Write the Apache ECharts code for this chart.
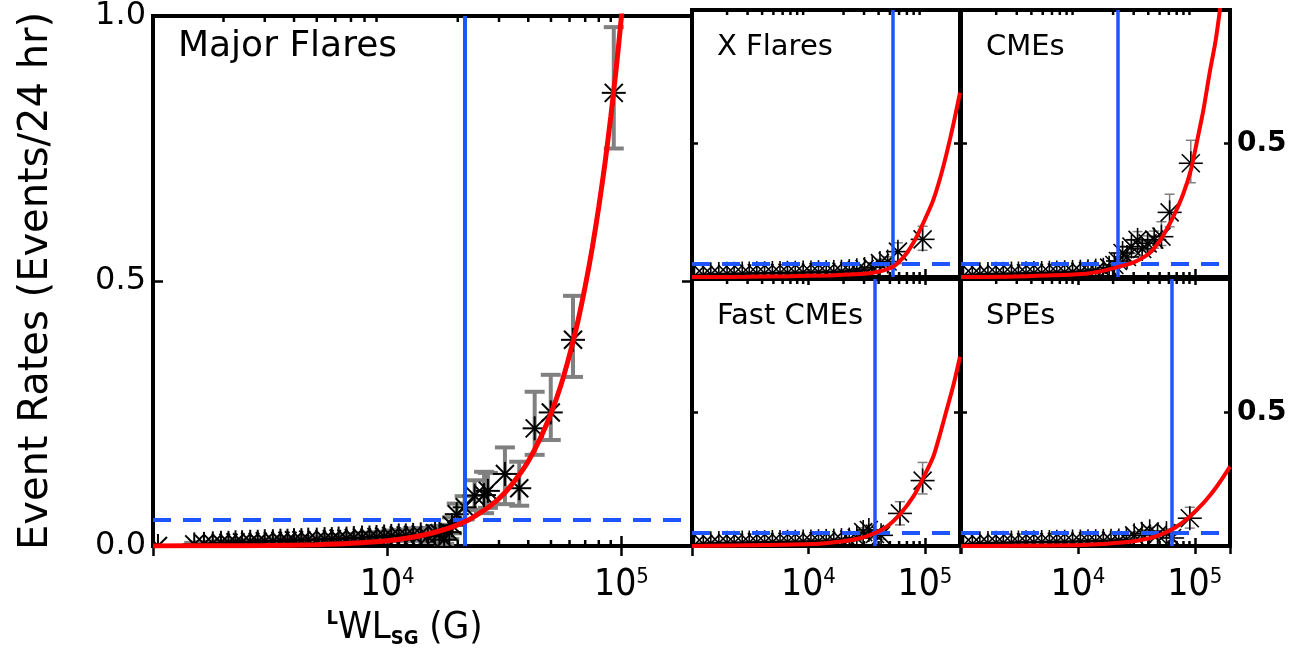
<!DOCTYPE html>
<html><head><meta charset="utf-8">
<script src="https://cdn.jsdelivr.net/npm/echarts@6/dist/echarts.min.js"></script>
<style>html,body{margin:0;padding:0;background:#fff}#c{width:1296px;height:662px}</style>
</head><body><div id="c"></div>
<script>
// ---------------- DATA ----------------
const panelNames = ['Major Flares', 'X Flares', 'CMEs', 'Fast CMEs', 'SPEs'];
const xTickExponents = [4, 5];
const yTickLabelRight = '0.5';
const minorTickValues = [2000, 3000, 4000, 5000, 6000, 7000, 8000, 9000, 20000, 30000, 40000, 50000, 60000, 70000, 80000, 90000];

// Major Flares
const mfX  = [1050, 1500, 1650, 1800, 1950, 2100, 2250, 2400, 2600, 2800, 3000, 3250, 3500, 3750, 4000, 4300, 4600, 5000, 5400, 5800, 6200, 6700, 7200, 7800, 8400, 9000, 9700, 10400, 11200, 12000, 12900, 13900, 14900, 16000, 16700, 17500, 18400, 18900, 19800, 21400, 23600, 25900, 26900, 31800, 36600, 42600, 49900, 62100, 92700];
const mfY  = [0.000, 0.003, 0.004, 0.005, 0.006, 0.006, 0.007, 0.007, 0.008, 0.008, 0.009, 0.009, 0.010, 0.010, 0.011, 0.011, 0.012, 0.012, 0.013, 0.013, 0.014, 0.014, 0.015, 0.016, 0.016, 0.017, 0.018, 0.019, 0.020, 0.020, 0.021, 0.022, 0.018, 0.024, 0.024, 0.012, 0.026, 0.039, 0.060, 0.073, 0.095, 0.096, 0.104, 0.136, 0.109, 0.222, 0.252, 0.389, 0.855];
const mfLo = [0.000, 0.000, 0.001, 0.002, 0.003, 0.003, 0.004, 0.004, 0.005, 0.005, 0.006, 0.006, 0.006, 0.006, 0.007, 0.007, 0.007, 0.007, 0.008, 0.008, 0.008, 0.008, 0.008, 0.009, 0.009, 0.009, 0.009, 0.010, 0.010, 0.010, 0.010, 0.011, 0.008, 0.012, 0.012, 0.004, 0.013, 0.024, 0.040, 0.050, 0.068, 0.062, 0.072, 0.079, 0.076, 0.172, 0.200, 0.319, 0.750];
const mfHi = [0.000, 0.006, 0.007, 0.008, 0.009, 0.009, 0.010, 0.010, 0.011, 0.011, 0.012, 0.012, 0.014, 0.014, 0.015, 0.015, 0.017, 0.017, 0.018, 0.019, 0.020, 0.021, 0.022, 0.024, 0.025, 0.026, 0.027, 0.029, 0.030, 0.031, 0.033, 0.034, 0.030, 0.037, 0.038, 0.022, 0.040, 0.054, 0.080, 0.094, 0.124, 0.140, 0.138, 0.186, 0.159, 0.291, 0.323, 0.472, 0.979];
const mfFitX = [1000, 2000, 3000, 5000, 7000, 10000, 13000, 16000, 19000, 22000, 25000, 28000, 32000, 36000, 40000, 45000, 50000, 55000, 60000, 65000, 70000, 75000, 80000, 85000, 90000, 95000, 100000, 106000];
const mfFitY = [0.0001, 0.0004, 0.0009, 0.0025, 0.005, 0.010, 0.017, 0.026, 0.036, 0.048, 0.063, 0.078, 0.102, 0.130, 0.160, 0.203, 0.250, 0.302, 0.360, 0.422, 0.490, 0.562, 0.640, 0.722, 0.810, 0.902, 1.000, 1.120];
const mfThreshold = 21400, mfRate = 0.050;

// X Flares
const xfX  = [1050, 1250, 1450, 1700, 2000, 2300, 2700, 3100, 3600, 4200, 4900, 5700, 6600, 7700, 9000, 10500, 12200, 14200, 16500, 19200, 22400, 26000, 30300, 35300, 41100, 47800, 58600, 95500];
const xfY  = [0.004, 0.008, 0.010, 0.011, 0.012, 0.012, 0.013, 0.013, 0.014, 0.014, 0.015, 0.015, 0.016, 0.016, 0.017, 0.017, 0.018, 0.018, 0.019, 0.020, 0.022, 0.025, 0.030, 0.036, 0.052, 0.058, 0.095, 0.141];
const xfLo = [0.002, 0.005, 0.007, 0.008, 0.009, 0.009, 0.010, 0.010, 0.011, 0.011, 0.012, 0.012, 0.012, 0.012, 0.013, 0.013, 0.013, 0.013, 0.014, 0.014, 0.016, 0.018, 0.022, 0.026, 0.038, 0.040, 0.050, 0.100];
const xfHi = [0.006, 0.011, 0.013, 0.014, 0.015, 0.015, 0.016, 0.016, 0.017, 0.017, 0.018, 0.018, 0.020, 0.020, 0.021, 0.021, 0.023, 0.023, 0.024, 0.026, 0.028, 0.032, 0.038, 0.046, 0.066, 0.076, 0.128, 0.190];
const xfFitX = [1000, 3000, 6900, 15300, 25000, 36000, 45000, 53500, 61000, 69700, 80000, 90600, 104000, 117800, 135000, 153500, 175000, 200000];
const xfFitY = [0.000, 0.001, 0.003, 0.006, 0.010, 0.016, 0.026, 0.039, 0.060, 0.089, 0.130, 0.176, 0.232, 0.288, 0.370, 0.463, 0.570, 0.690];
const xfThreshold = 53100, xfRate = 0.047;

// CMEs
const cmX  = [1050, 1250, 1450, 1700, 2000, 2300, 2700, 3100, 3600, 4200, 4900, 5700, 6600, 7700, 9000, 10500, 12200, 14200, 16500, 18500, 20500, 22000, 24100, 26300, 28700, 32400, 35500, 39500, 45000, 51800, 60900, 92400];
const cmY  = [0.004, 0.008, 0.010, 0.011, 0.012, 0.012, 0.013, 0.013, 0.014, 0.015, 0.015, 0.016, 0.017, 0.018, 0.019, 0.020, 0.022, 0.024, 0.027, 0.035, 0.045, 0.060, 0.090, 0.075, 0.114, 0.139, 0.105, 0.126, 0.140, 0.151, 0.242, 0.426];
const cmLo = [0.002, 0.005, 0.007, 0.008, 0.009, 0.009, 0.010, 0.010, 0.011, 0.011, 0.011, 0.012, 0.012, 0.013, 0.013, 0.014, 0.015, 0.016, 0.018, 0.024, 0.032, 0.044, 0.068, 0.055, 0.088, 0.108, 0.078, 0.098, 0.108, 0.118, 0.188, 0.353];
const cmHi = [0.006, 0.011, 0.013, 0.014, 0.015, 0.015, 0.016, 0.016, 0.017, 0.019, 0.019, 0.020, 0.022, 0.023, 0.025, 0.026, 0.029, 0.032, 0.036, 0.046, 0.058, 0.076, 0.112, 0.095, 0.140, 0.170, 0.132, 0.154, 0.172, 0.207, 0.310, 0.512];
const cmFitX = [1000, 3000, 10900, 16000, 21300, 30000, 41100, 50000, 57100, 67000, 79400, 92400, 103500, 117800, 134600, 150000, 164000, 175000];
const cmFitY = [0.000, 0.002, 0.011, 0.022, 0.036, 0.055, 0.090, 0.135, 0.176, 0.235, 0.310, 0.400, 0.500, 0.620, 0.770, 0.880, 1.000, 1.100];
const cmThreshold = 22000, cmRate = 0.047;

// Fast CMEs
const fcX  = [1050, 1250, 1450, 1700, 2000, 2300, 2700, 3100, 3600, 4200, 4900, 5700, 6600, 7700, 9000, 10500, 12200, 14200, 16500, 19200, 22400, 26000, 29500, 33000, 37200, 42000, 61000, 95500];
const fcY  = [0.004, 0.008, 0.010, 0.011, 0.012, 0.012, 0.013, 0.013, 0.014, 0.014, 0.015, 0.015, 0.016, 0.016, 0.017, 0.017, 0.018, 0.019, 0.020, 0.022, 0.024, 0.030, 0.052, 0.060, 0.045, 0.040, 0.122, 0.245];
const fcLo = [0.002, 0.005, 0.007, 0.008, 0.009, 0.009, 0.010, 0.010, 0.011, 0.011, 0.012, 0.012, 0.012, 0.012, 0.013, 0.013, 0.013, 0.014, 0.014, 0.015, 0.016, 0.020, 0.036, 0.042, 0.030, 0.025, 0.079, 0.195];
const fcHi = [0.006, 0.011, 0.013, 0.014, 0.015, 0.015, 0.016, 0.016, 0.017, 0.017, 0.018, 0.018, 0.020, 0.020, 0.021, 0.021, 0.023, 0.024, 0.026, 0.029, 0.032, 0.040, 0.068, 0.078, 0.060, 0.055, 0.166, 0.313];
const fcFitX = [1000, 10900, 20000, 27700, 36000, 46900, 60000, 79400, 98000, 117800, 135000, 153500, 175000, 200000];
const fcFitY = [0.000, 0.0075, 0.018, 0.029, 0.046, 0.072, 0.115, 0.185, 0.260, 0.334, 0.420, 0.509, 0.600, 0.709];
const fcThreshold = 37200, fcRate = 0.054;

// SPEs
const spX  = [1050, 1250, 1450, 1700, 2000, 2300, 2700, 3100, 3600, 4200, 4900, 5700, 6600, 7700, 9000, 10500, 12200, 14200, 16500, 19200, 22400, 26000, 30300, 35300, 41100, 48000, 57200, 64000, 90600];
const spY  = [0.004, 0.008, 0.010, 0.011, 0.012, 0.012, 0.013, 0.013, 0.014, 0.014, 0.015, 0.015, 0.016, 0.016, 0.017, 0.017, 0.018, 0.018, 0.019, 0.020, 0.021, 0.024, 0.040, 0.046, 0.055, 0.042, 0.048, 0.030, 0.104];
const spLo = [0.002, 0.005, 0.007, 0.008, 0.009, 0.009, 0.010, 0.010, 0.011, 0.011, 0.012, 0.012, 0.012, 0.012, 0.013, 0.013, 0.013, 0.013, 0.014, 0.014, 0.015, 0.017, 0.028, 0.032, 0.040, 0.028, 0.032, 0.018, 0.067];
const spHi = [0.006, 0.011, 0.013, 0.014, 0.015, 0.015, 0.016, 0.016, 0.017, 0.017, 0.018, 0.018, 0.020, 0.020, 0.021, 0.021, 0.023, 0.023, 0.024, 0.026, 0.027, 0.031, 0.052, 0.060, 0.070, 0.056, 0.064, 0.042, 0.145];
const spFitX = [1000, 10900, 25000, 41100, 55000, 69700, 90000, 117800, 135000, 153500, 175000, 200000];
const spFitY = [0.000, 0.004, 0.014, 0.029, 0.048, 0.072, 0.110, 0.160, 0.190, 0.222, 0.258, 0.297];
const spThreshold = 63800, spRate = 0.051;

// ---------------- BUILD ----------------
const FONT = '"DejaVu Sans", "Liberation Sans", sans-serif';
const NARROW = '"Liberation Sans Narrow", "DejaVu Sans Condensed", "Liberation Sans", sans-serif';
const BLUE = '#1f55ff', RED = '#ff0000', GRAY = '#808080';

const panels = [
  {x: mfX, y: mfY, lo: mfLo, hi: mfHi, fx: mfFitX, fy: mfFitY, thr: mfThreshold, rate: mfRate},
  {x: xfX, y: xfY, lo: xfLo, hi: xfHi, fx: xfFitX, fy: xfFitY, thr: xfThreshold, rate: xfRate},
  {x: cmX, y: cmY, lo: cmLo, hi: cmHi, fx: cmFitX, fy: cmFitY, thr: cmThreshold, rate: cmRate},
  {x: fcX, y: fcY, lo: fcLo, hi: fcHi, fx: fcFitX, fy: fcFitY, thr: fcThreshold, rate: fcRate},
  {x: spX, y: spY, lo: spLo, hi: spHi, fx: spFitX, fy: spFitY, thr: spThreshold, rate: spRate}
];

const grids = [
  {left: 153, top: 10, width: 539, height: 536},
  {left: 692, top: 10, width: 268, height: 267},
  {left: 961, top: 10, width: 269, height: 267},
  {left: 692, top: 279, width: 268, height: 267},
  {left: 961, top: 279, width: 269, height: 267}
];

function xLabelFmt(v) {
  const e = Math.log10(v), r = Math.round(e);
  if (Math.abs(e - r) < 1e-6 && xTickExponents.indexOf(r) >= 0) return '{b|10}{s|' + r + '}';
  return '';
}
const xRich = {
  b: {fontFamily: NARROW, fontSize: 37, color: '#000', lineHeight: 38},
  s: {fontFamily: NARROW, fontSize: 22, color: '#000', lineHeight: 22, verticalAlign: 'top'}
};

const xAxes = [], yAxes = [], series = [], titles = [];
grids.forEach((g, i) => {
  const big = i === 0;
  const tickLen = big ? 10 : 8;
  ['bottom', 'top'].forEach(pos => {
    const ax = {
      gridIndex: i, type: 'log', logBase: 10, min: 1000, max: 200000, position: pos,
      axisLine: {show: false}, splitLine: {show: false},
      axisTick: {show: true, inside: true, length: tickLen, lineStyle: {color: '#000', width: 2.5}},
      axisLabel: {show: false}
    };
    if (pos === 'bottom' && i !== 1 && i !== 2) {
      ax.axisLabel = {show: true, margin: 20, formatter: xLabelFmt, rich: xRich, showMinLabel: false, showMaxLabel: false};
    }
    if (big && pos === 'bottom') {
      ax.name = '{l|L}{m|WL}{s|SG}{m| (G)}';
      ax.nameLocation = 'middle';
      ax.nameGap = 62;
      ax.nameTextStyle = {
        padding: [0, 36, 0, 0],
        rich: {
          l: {fontFamily: NARROW, fontSize: 20, fontWeight: 'bold', color: '#000', lineHeight: 20, verticalAlign: 'top'},
          m: {fontFamily: NARROW, fontSize: 38, color: '#000', lineHeight: 40},
          s: {fontFamily: NARROW, fontSize: 20, fontWeight: 'bold', color: '#000', lineHeight: 20, verticalAlign: 'bottom'}
        }
      };
    }
    xAxes.push(ax);
  });
  ['left', 'right'].forEach(pos => {
    const ay = {
      gridIndex: i, type: 'value', min: 0, max: 1, interval: 0.5, position: pos,
      axisLine: {show: false}, splitLine: {show: false},
      axisTick: {show: true, inside: true, length: big ? 10 : 6, lineStyle: {color: '#000', width: 2.5}},
      axisLabel: {show: false}
    };
    if (big && pos === 'left') {
      ay.axisLabel = {show: true, margin: 7, fontFamily: FONT, fontSize: 32, color: '#000', formatter: v => v.toFixed(1)};
      ay.name = 'Event Rates (Events/24 hr)';
      ay.nameLocation = 'middle';
      ay.nameGap = 96;
      ay.nameTextStyle = {fontFamily: FONT, fontSize: 40, color: '#000'};
    }
    if ((i === 2 || i === 4) && pos === 'right') {
      ay.axisLabel = {show: true, margin: 7, fontFamily: FONT, fontSize: 28, fontWeight: 'bold', color: '#000',
        formatter: v => Math.abs(v - 0.5) < 1e-9 ? yTickLabelRight : ''};
    }
    yAxes.push(ay);
  });

  const P = panels[i];
  const xi = i * 2, yi = i * 2;
  const capHalf = big ? 10 : 5, ebw = big ? 4 : 1.5;
  const starR = 12, starW = big ? 2 : 1.6;

  // minor x ticks
  series.push({
    type: 'custom', xAxisIndex: xi, yAxisIndex: yi, clip: true, silent: true, z: 1,
    data: minorTickValues.map(v => [v]),
    renderItem: (params, api) => {
      const b = api.coord([api.value(0), 0]), t = api.coord([api.value(0), 1]);
      const L = big ? 6 : 5;
      const st = {stroke: '#000', lineWidth: 2.5};
      return {type: 'group', children: [
        {type: 'line', shape: {x1: b[0], y1: b[1], x2: b[0], y2: b[1] - L}, style: st},
        {type: 'line', shape: {x1: t[0], y1: t[1], x2: t[0], y2: t[1] + L}, style: st}
      ]};
    }
  });
  // error bars
  series.push({
    type: 'custom', xAxisIndex: xi, yAxisIndex: yi, clip: true, silent: true, z: 2,
    data: P.x.map((v, k) => [v, P.y[k], P.lo[k], P.hi[k]]),
    renderItem: (params, api) => {
      const a = api.coord([api.value(0), api.value(2)]), b = api.coord([api.value(0), api.value(3)]);
      const st = {stroke: GRAY, lineWidth: ebw};
      return {type: 'group', children: [
        {type: 'line', shape: {x1: a[0], y1: a[1], x2: b[0], y2: b[1]}, style: st},
        {type: 'line', shape: {x1: a[0] - capHalf, y1: a[1], x2: a[0] + capHalf, y2: a[1]}, style: st},
        {type: 'line', shape: {x1: b[0] - capHalf, y1: b[1], x2: b[0] + capHalf, y2: b[1]}, style: st}
      ]};
    }
  });
  // asterisks
  series.push({
    type: 'custom', xAxisIndex: xi, yAxisIndex: yi, clip: true, silent: true, z: 3,
    data: P.x.map((v, k) => [v, P.y[k]]),
    renderItem: (params, api) => {
      const p = api.coord([api.value(0), api.value(1)]);
      const r = starR, d = starR * 0.75;
      const st = {stroke: '#000', lineWidth: starW};
      return {type: 'group', children: [
        {type: 'line', shape: {x1: p[0] - r, y1: p[1], x2: p[0] + r, y2: p[1]}, style: st},
        {type: 'line', shape: {x1: p[0], y1: p[1] - r, x2: p[0], y2: p[1] + r}, style: st},
        {type: 'line', shape: {x1: p[0] - d, y1: p[1] - d, x2: p[0] + d, y2: p[1] + d}, style: st},
        {type: 'line', shape: {x1: p[0] - d, y1: p[1] + d, x2: p[0] + d, y2: p[1] - d}, style: st}
      ]};
    }
  });
  // fit curve + thresholds
  series.push({
    type: 'line', xAxisIndex: xi, yAxisIndex: yi, clip: true, silent: true, z: 5,
    data: P.fx.map((v, k) => [v, P.fy[k]]),
    showSymbol: false, smooth: 0.25,
    lineStyle: {color: RED, width: big ? 5 : 4},
    markLine: {
      silent: true, symbol: 'none', label: {show: false}, animation: false, z: 4,
      data: [
        {xAxis: P.thr, lineStyle: {color: BLUE, width: big ? 4 : 3.5, type: 'solid'}},
        {yAxis: P.rate, lineStyle: {color: BLUE, width: 4, type: [18, 12]}}
      ]
    }
  });

  titles.push({
    text: panelNames[i],
    left: big ? 173 : g.left + 20,
    top: big ? 24 : g.top + 18,
    textStyle: {fontFamily: FONT, fontSize: big ? 36 : 29, fontWeight: 'normal', color: '#000'}
  });
});

const chart = echarts.init(document.getElementById('c'));
chart.setOption({
  animation: false,
  backgroundColor: '#fff',
  title: titles,
  grid: grids.map(g => Object.assign({show: true, borderColor: '#000', borderWidth: 4, backgroundColor: 'transparent', containLabel: false}, g)),
  xAxis: xAxes,
  yAxis: yAxes,
  series: series
});
</script>
</body></html>
